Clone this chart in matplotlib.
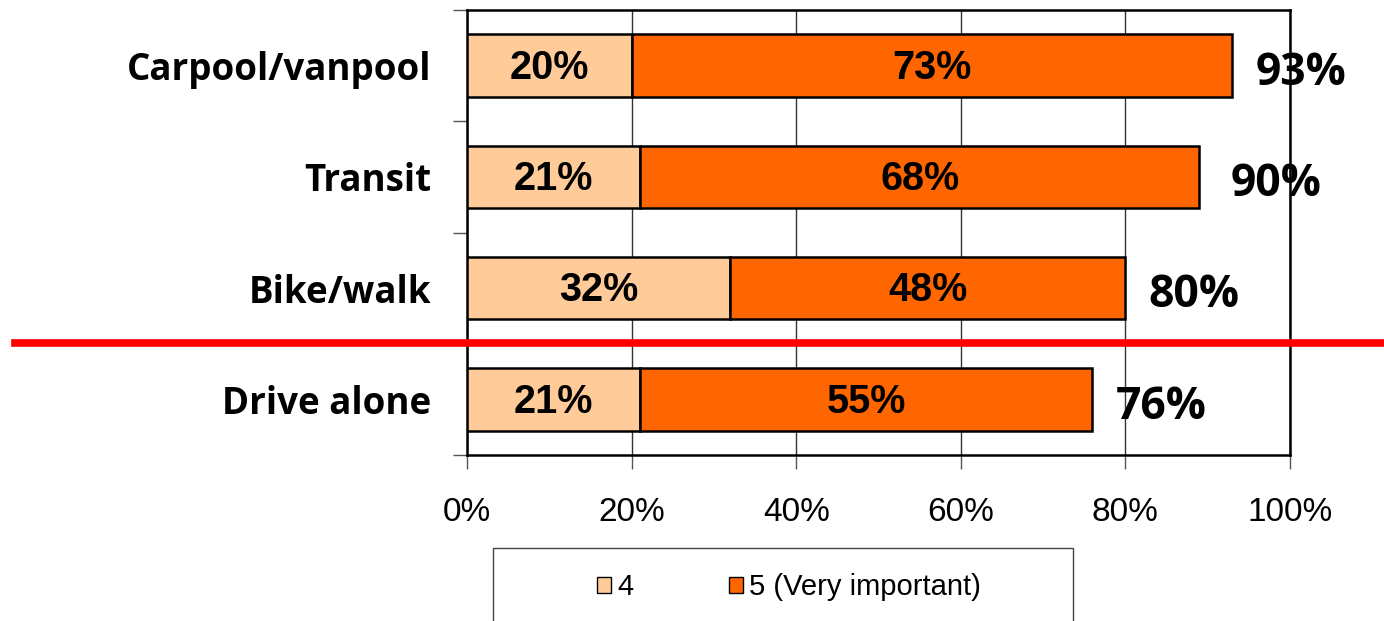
import matplotlib
matplotlib.use("Agg")
import matplotlib.pyplot as plt
import matplotlib.transforms as mtransforms
from matplotlib.patches import Rectangle, Patch
import numpy as np

# data (top to bottom)
modes = ["Carpool/vanpool", "Transit", "Bike/walk", "Drive alone"]
important_4 = [20, 21, 32, 21]
very_important_5 = [73, 68, 48, 55]
totals = [93, 90, 80, 76]
x_ticks = [0, 20, 40, 60, 80, 100]

light = "#FFCC99"
dark = "#FF6600"

fig = plt.figure(figsize=(13.84, 6.21), dpi=100)
ax = fig.add_axes([467 / 1384, 1 - 455 / 621, (1290 - 467) / 1384, 445 / 621])

y = np.arange(len(modes))
ax.barh(y, important_4, height=0.56, color=light, edgecolor="black", linewidth=1.8, zorder=3)
ax.barh(y, very_important_5, left=important_4, height=0.56, color=dark,
        edgecolor="black", linewidth=1.8, zorder=3)

for i in range(len(modes)):
    ax.text(important_4[i] / 2, y[i] + 0.02, f"{important_4[i]}%", ha="center", va="center",
            fontsize=28.5, fontweight="bold", family="Liberation Sans", zorder=4)
    ax.text(important_4[i] + very_important_5[i] / 2, y[i] + 0.02, f"{very_important_5[i]}%",
            ha="center", va="center", fontsize=28.5, fontweight="bold",
            family="Liberation Sans", zorder=4)
    ax.text(totals[i] + 2.8, y[i] + 0.07, f"{totals[i]}%", ha="left", va="center",
            fontsize=32, fontweight="bold", family="Open Sans", zorder=4,
            clip_on=False)

ax.set_xlim(0, 100)
ax.set_ylim(len(modes) - 0.5, -0.5)
ax.set_xticks(x_ticks)
ax.set_xticklabels([f"{t}%" for t in x_ticks], fontsize=24, family="Liberation Sans")
ax.tick_params(axis="x", length=10, width=1, color="#555555", pad=20)

ax.set_yticks(y)
ax.set_yticklabels(modes, fontsize=26.5, fontweight="bold", family="Open Sans")
ax.tick_params(axis="y", which="major", length=0, pad=26)
ax.set_yticks(np.arange(len(modes) + 1) - 0.5, minor=True)
ax.tick_params(axis="y", which="minor", length=10, width=1, color="#555555")

ax.grid(axis="x", color="#333333", linewidth=1, zorder=0)
ax.set_axisbelow(True)
for s in ax.spines.values():
    s.set_linewidth(1.8)
    s.set_color("black")

# red separator line between Bike/walk and Drive alone
trans = mtransforms.blended_transform_factory(fig.transFigure, ax.transData)
ax.plot([15 / 1384, 1.0], [2.49, 2.49], color="red", linewidth=5.5, transform=trans,
        clip_on=False, zorder=5)

# legend box
fig.patches.append(Rectangle((493 / 1384, -0.05), (1073 - 493) / 1384, 1 - 548 / 621 + 0.05,
                             transform=fig.transFigure, facecolor="white",
                             edgecolor="#444444", linewidth=1))
handles = [Patch(facecolor=light, edgecolor="black", label="4"),
           Patch(facecolor=dark, edgecolor="black", label="5 (Very important)")]
fig.legend(handles=handles, loc="center", bbox_to_anchor=(789 / 1384, 1 - 587 / 621),
           ncol=2, frameon=False, handlelength=0.48, handleheight=0.48, handletextpad=0.2,
           columnspacing=3.3, prop={"family": "Liberation Sans", "size": 21})

fig.savefig("out.png", dpi=100)
